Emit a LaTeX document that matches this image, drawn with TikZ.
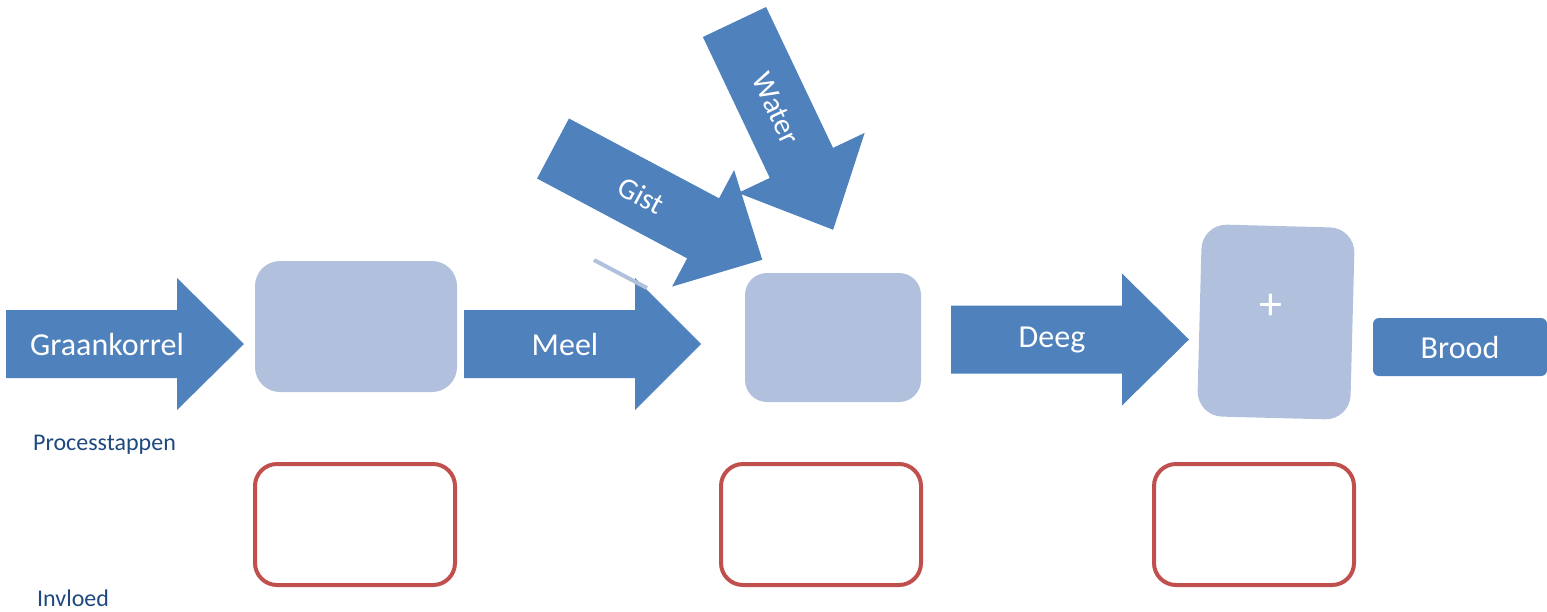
\documentclass[tikz,border=0pt]{standalone}
\usepackage{fontspec}
\setmainfont{Carlito}
\usepackage{tikz}
\definecolor{arrowColor}{RGB}{79,129,189}
\definecolor{stepColor}{RGB}{177,193,221}
\definecolor{influenceColor}{RGB}{192,80,77}
\definecolor{labelColor}{RGB}{31,73,125}

\begin{document}
\begin{tikzpicture}[x=1pt,y=-1pt]

            \tikzstyle{blockArrow} = [fill=arrowColor];
            \tikzstyle{arrowText} = [text=white, inner sep=0pt, font=\fontsize{32}{38}\selectfont];
            \tikzstyle{smallArrowText} = [text=white, inner sep=0pt, transform shape, font=\fontsize{30}{35}\selectfont];
            \tikzstyle{stepBox} = [fill=stepColor, rounded corners=25pt, inner sep=0pt];
            \tikzstyle{influenceBox} = [draw=influenceColor, line width=4pt, rounded corners=22pt, minimum width=200pt, minimum height=121pt];
            \tikzstyle{rowLabel} = [text=labelColor, anchor=west, inner sep=0pt, font=\fontsize{24}{29}\selectfont];

            \useasboundingbox (0,0) rectangle (1547,611);

            % horizontal arrows
            \begin{scope}[shift={(6,344)}]
              \fill[blockArrow] (0,-34) -- (171,-34) -- (171,-66) -- (238,0) -- (171,66) -- (171,34) -- (0,34) -- cycle;
              \node[arrowText] (graankorrel) at (101,0) {Graankorrel};
            \end{scope}

            \begin{scope}[shift={(464,344)}]
              \fill[blockArrow] (0,-34) -- (171,-34) -- (171,-66) -- (237,0) -- (171,66) -- (171,34) -- (0,34) -- cycle;
              \node[arrowText] (meel) at (101,0) {Meel};
            \end{scope}

            \begin{scope}[shift={(951,339.5)}]
              \fill[blockArrow] (0,-34) -- (171,-34) -- (171,-66) -- (238,0) -- (171,66) -- (171,34) -- (0,34) -- cycle;
              \node[arrowText] (deeg) at (101,0) {Deeg};
            \end{scope}

            % ingredients
            \begin{scope}[shift={(553,148.5)}, rotate=-28]
              \fill[blockArrow] (0,-34) -- (170,-34) -- (170,-66) -- (237,0) -- (170,66) -- (170,34) -- (0,34) -- cycle;
              \node[smallArrowText] (gist) at (100,0) {Gist};
            \end{scope}

            \begin{scope}[shift={(734.5,22)}, rotate=-64.6]
              \fill[blockArrow] (0,-35) -- (156,-35) -- (156,-70) -- (230,0) -- (156,70) -- (156,35) -- (0,35) -- cycle;
              \node[smallArrowText] (water) at (96,0) {Water};
            \end{scope}

            \coordinate (strayA) at (594,260);
            \coordinate (strayB) at (647,288);
            \draw[stepColor, line width=4pt] (strayA) -- (strayB);

            % process steps
            \node[stepBox, minimum width=202pt, minimum height=131pt] (malen) at (356,326.5) {};
            \node[stepBox, minimum width=176pt, minimum height=129pt, rounded corners=22pt] (kneden) at (833,337.5) {};
            \node[stepBox, minimum width=153pt, minimum height=192pt, rotate=-1.5] (bakken) at (1276,322) {};
            \node[text=white, inner sep=0pt, font=\fontsize{46}{52}\selectfont] (plus) at (1271,307) {+};

            \node[fill=arrowColor, rounded corners=6pt, minimum width=174pt, minimum height=58pt, inner sep=0pt,
                  text=white, font=\fontsize{32}{38}\selectfont] (brood) at (1460,347) {Brood};

            % influences
            \node[influenceBox] (invloedA) at (355,524.5) {};
            \node[influenceBox] (invloedB) at (821,524.5) {};
            \node[influenceBox] (invloedC) at (1254,524.5) {};

            \node[rowLabel] (processtappen) at (33,445) {Processtappen};
            \node[rowLabel] (invloed) at (37,598) {Invloed};
          \end{tikzpicture}
\end{document}
